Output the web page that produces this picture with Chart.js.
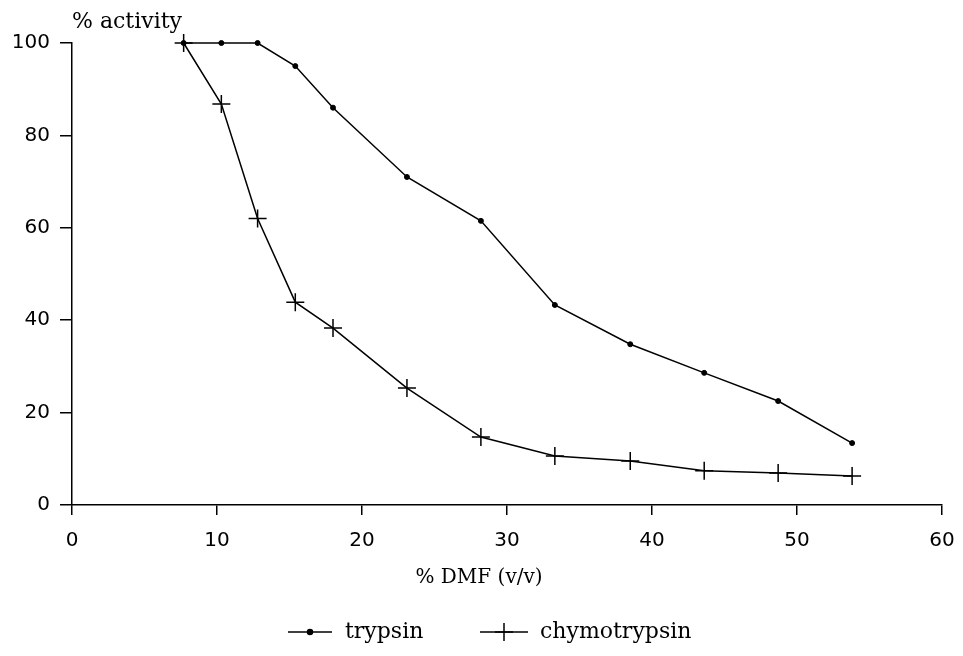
<!DOCTYPE html>
<html>
<head>
<meta charset="utf-8">
<script src="https://cdn.jsdelivr.net/npm/chart.js@4.4.1/dist/chart.umd.min.js"></script>
<style>
  body { margin: 0; background: #fff; }
  canvas { display: block; }
</style>
</head>
<body>
<canvas id="activity_chart_area" width="963" height="656"></canvas>
<script>
// % DMF (v/v) at which activity was measured
const dmf = [7.7, 10.3, 12.8, 15.4, 18.0, 23.1, 28.2, 33.3, 38.5, 43.6, 48.7, 53.8];
// % activity per enzyme
const trypsin = [100, 100, 100, 95, 86, 71, 61.5, 43.3, 34.8, 28.6, 22.5, 13.4];
const chymotrypsin = [100, 86.8, 62, 43.9, 38.3, 25.3, 14.7, 10.6, 9.5, 7.4, 6.9, 6.3];

const x_ticks = [0, 10, 20, 30, 40, 50, 60];
const y_ticks = [0, 20, 40, 60, 80, 100];

const y_title = "% activity";
const x_title = "% DMF (v/v)";

const TICK_FONT = { family: "DejaVu Sans", size: 20 };
const LABEL_FONT = "22px 'DejaVu Serif'";
const X_TITLE_FONT = "20px 'DejaVu Serif'";

// titles + legend drawn by hand, the built in legend can't do line+marker
const extras = {
  id: "extras",
  afterDraw(chart) {
    const ctx = chart.ctx;
    ctx.save();
    ctx.fillStyle = "#000";
    ctx.font = LABEL_FONT;
    ctx.textAlign = "left";
    ctx.textBaseline = "alphabetic";
    ctx.fillText(y_title, 72, 28);

    ctx.font = X_TITLE_FONT;
    ctx.textAlign = "center";
    ctx.textBaseline = "middle";
    ctx.fillText(x_title, 479, 578);

    // legend
    const ly = 632;
    const items = [
      { ds: chart.data.datasets[0], x0: 288, x1: 332, tx: 345 },
      { ds: chart.data.datasets[1], x0: 480, x1: 528, tx: 540 },
    ];
    items.forEach((it) => {
      ctx.strokeStyle = "#000";
      ctx.lineWidth = 1.5;
      ctx.beginPath();
      ctx.moveTo(it.x0, ly);
      ctx.lineTo(it.x1, ly);
      ctx.stroke();
      Chart.helpers.drawPoint(ctx, {
        pointStyle: it.ds.pointStyle,
        radius: it.ds.pointRadius,
        borderWidth: it.ds.pointBorderWidth,
        rotation: 0,
      }, (it.x0 + it.x1) / 2, ly);
      ctx.textAlign = "left";
      ctx.textBaseline = "middle";
      ctx.fillStyle = "#000";
      ctx.font = LABEL_FONT;
      ctx.fillText(it.ds.label, it.tx, ly);
    });
    ctx.restore();
  },
};

const activity_chart_area = document
  .getElementById("activity_chart_area")
  .getContext("2d");
const activity_chart = new Chart(activity_chart_area, {
  type: "line",
  data: {
    datasets: [
      {
        label: "trypsin",
        data: dmf.map((x, i) => ({ x: x, y: trypsin[i] })),
        borderColor: "#000",
        backgroundColor: "#000",
        borderWidth: 1.5,
        pointStyle: "circle",
        pointRadius: 2.5,
        pointBorderWidth: 1,
        pointBackgroundColor: "#000",
        pointBorderColor: "#000",
        tension: 0,
        clip: false,
      },
      {
        label: "chymotrypsin",
        data: dmf.map((x, i) => ({ x: x, y: chymotrypsin[i] })),
        borderColor: "#000",
        backgroundColor: "#000",
        borderWidth: 1.5,
        pointStyle: "cross",
        pointRadius: 9,
        pointBorderWidth: 1.5,
        pointBorderColor: "#000",
        tension: 0,
        clip: false,
      },
    ],
  },
  options: {
    responsive: false,
    animation: false,
    layout: {
      padding: { left: 0, top: 43, right: 21, bottom: 91 },
    },
    plugins: {
      legend: { display: false },
      tooltip: { enabled: false },
    },
    scales: {
      x: {
        type: "linear",
        min: 0,
        max: 60,
        afterBuildTicks: (axis) => {
          axis.ticks = x_ticks.map((v) => ({ value: v }));
        },
        afterFit: (axis) => {
          axis.height = 60;
          axis.paddingLeft = 0;
          axis.paddingRight = 0;
        },
        ticks: { color: "#000", font: TICK_FONT, padding: 14, maxRotation: 0 },
        grid: {
          drawOnChartArea: false,
          drawTicks: true,
          tickLength: 10,
          color: "#000",
          lineWidth: 1.5,
        },
        border: { display: true, color: "#000", width: 1.5 },
      },
      y: {
        min: 0,
        max: 100,
        afterBuildTicks: (axis) => {
          axis.ticks = y_ticks.map((v) => ({ value: v }));
        },
        afterFit: (axis) => {
          axis.width = 72;
          axis.paddingTop = 0;
          axis.paddingBottom = 0;
        },
        ticks: { color: "#000", font: TICK_FONT, padding: 10 },
        grid: {
          drawOnChartArea: false,
          drawTicks: true,
          tickLength: 12,
          color: "#000",
          lineWidth: 1.5,
        },
        border: { display: true, color: "#000", width: 1.5 },
      },
    },
  },
  plugins: [extras],
});
</script>
</body>
</html>
